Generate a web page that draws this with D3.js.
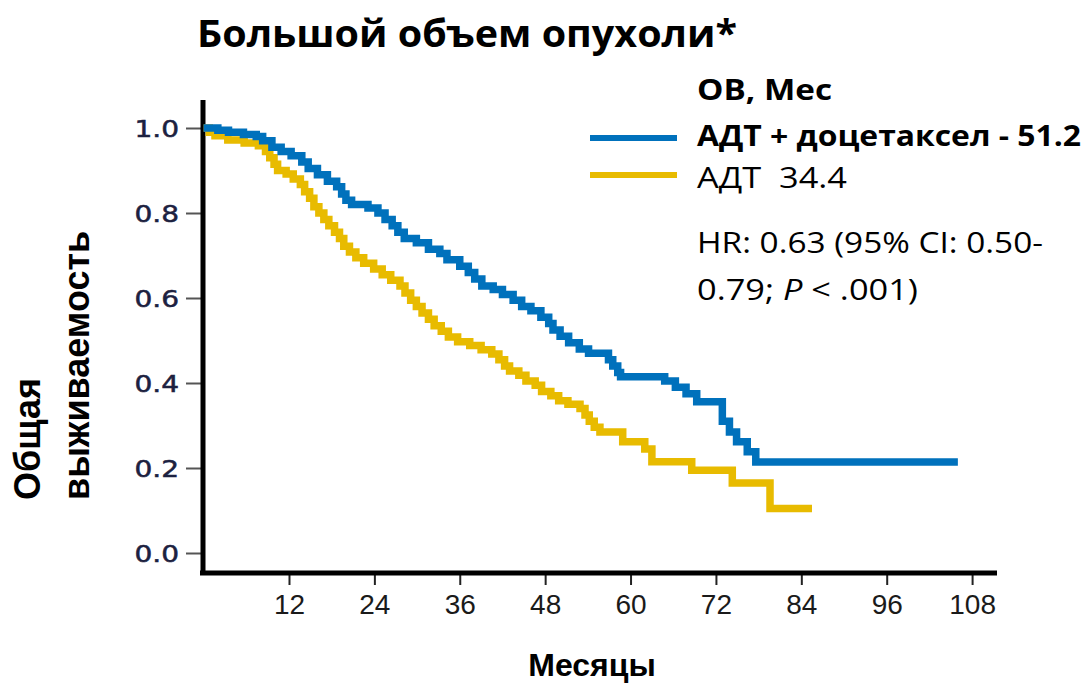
<!DOCTYPE html>
<html>
<head>
<meta charset="utf-8">
<script src="https://cdn.jsdelivr.net/npm/d3@7"></script>
<style>
  html, body { margin: 0; padding: 0; background: #fff; }
  svg { display: block; }
  text { white-space: pre; }
</style>
</head>
<body>
<svg id="chart" width="1086" height="685"></svg>
<script>
// Kaplan–Meier overall survival, high-volume disease
const chartTitle = "Большой объем опухоли*";
const yAxisLines = ["Общая", "выживаемость"];
const xAxisTitle = "Месяцы";

const xTicks = [12, 24, 36, 48, 60, 72, 84, 96, 108];
const yTicks = [0, 0.2, 0.4, 0.6, 0.8, 1.0];

const seriesNames = ["АДТ + доцетаксел - 51.2", "АДТ  34.4"];
const legendHeader = "ОВ, Мес";

// ADT + docetaxel arm: months and survival probability
const docMonths = [0, 2.0, 3.5, 5.6, 7.4, 8.3, 9.6, 10.9, 12.3, 13.8, 14.7, 16.0, 17.4, 18.7, 19.4, 20.0, 20.8,
  23.1, 24.5, 25.5, 26.5, 27.3, 28.2, 29.9, 31.6, 33.2, 34.2, 36.0, 37.2, 38.1, 39.1, 40.7, 42.0, 43.5,
  44.7, 46.0, 47.4, 48.5, 49.1, 50.1, 51.3, 52.8, 54.1, 56.9, 57.5, 58.2, 58.6, 64.8, 66.3, 67.8, 69.3,
  72.9, 73.9, 74.9, 76.4, 77.6, 106.0];
const docSurv = [1.0, 0.995, 0.99, 0.985, 0.98, 0.97, 0.955, 0.945, 0.935, 0.92, 0.905, 0.89, 0.875, 0.862, 0.845, 0.83, 0.82,
  0.812, 0.80, 0.785, 0.77, 0.755, 0.74, 0.73, 0.715, 0.705, 0.69, 0.675, 0.66, 0.645, 0.628, 0.62, 0.608, 0.595,
  0.58, 0.57, 0.555, 0.54, 0.525, 0.51, 0.495, 0.48, 0.47, 0.455, 0.44, 0.425, 0.415, 0.405, 0.39, 0.375, 0.356,
  0.31, 0.285, 0.262, 0.238, 0.214, 0.214];

// ADT alone arm
const adtMonths = [0, 0.8, 1.6, 3.4, 5.7, 7.7, 8.7, 9.3, 9.9, 10.4, 11.6, 12.6, 13.6, 14.2, 14.9, 15.5, 16.2, 16.9,
  17.6, 18.4, 19.1, 19.7, 20.5, 21.4, 22.5, 23.9, 25.1, 26.3, 27.6, 28.3, 29.1, 29.9, 30.7, 31.6, 32.4, 33.4,
  34.4, 35.7, 37.4, 39.0, 40.5, 41.5, 42.3, 43.0, 44.3, 45.3, 46.6, 47.5, 48.8, 49.9, 51.2, 52.9, 53.6, 54.2,
  54.9, 55.7, 58.9, 62.0, 63.0, 68.6, 74.3, 79.6, 85.5];
const adtSurv = [1.0, 0.99, 0.982, 0.972, 0.965, 0.958, 0.945, 0.93, 0.915, 0.9, 0.892, 0.88, 0.867, 0.85, 0.835, 0.815, 0.80, 0.785,
  0.77, 0.755, 0.74, 0.722, 0.708, 0.695, 0.682, 0.668, 0.655, 0.642, 0.628, 0.612, 0.595, 0.58, 0.565, 0.55, 0.535, 0.522,
  0.508, 0.497, 0.488, 0.478, 0.468, 0.455, 0.44, 0.428, 0.418, 0.405, 0.395, 0.38, 0.37, 0.358, 0.35, 0.34, 0.325, 0.31,
  0.296, 0.285, 0.262, 0.245, 0.215, 0.195, 0.165, 0.105, 0.105];

const colors = ["#0071BC", "#E8BB00"];

const svg = d3.select("#chart");

const x = d3.scaleLinear().domain([0, 111.5]).range([203.6, 997]);
const y = d3.scaleLinear().domain([0, 1]).range([553, 128]);

// Title
svg.append("text")
  .attr("x", 197).attr("y", 47)
  .attr("font-family", "'Open Sans', sans-serif")
  .attr("font-weight", 700)
  .attr("font-size", 38)
  .attr("textLength", 540).attr("lengthAdjust", "spacingAndGlyphs")
  .attr("fill", "#000")
  .text(chartTitle);

// Y axis ticks and labels
const yAxis = d3.axisLeft(y).tickValues(yTicks).tickSize(15).tickPadding(0).tickFormat(d3.format(".1f"));
const gy = svg.append("g").attr("transform", "translate(201,0)").call(yAxis);
gy.select(".domain").remove();
gy.selectAll(".tick line").attr("stroke", "#555").attr("stroke-width", 2);
gy.selectAll(".tick text")
  .attr("x", 0)
  .attr("dy", null)
  .attr("dominant-baseline", "central")
  .attr("text-anchor", "end")
  .attr("font-family", "'DejaVu Sans', sans-serif")
  .attr("font-size", 23)
  .attr("fill", "#1c2140")
  .attr("stroke", "#1c2140")
  .attr("stroke-width", 0.5)
  .attr("transform", "translate(-22,0) scale(1.22,1)");

// X axis ticks and labels
const xAxis = d3.axisBottom(x).tickValues(xTicks).tickSize(12).tickPadding(9).tickFormat(d3.format("d"));
const gx = svg.append("g").attr("transform", "translate(0,573)").call(xAxis);
gx.select(".domain").remove();
gx.selectAll(".tick line").attr("stroke", "#222").attr("stroke-width", 2);
gx.selectAll(".tick text")
  .attr("font-family", "'Liberation Sans', Arial, sans-serif")
  .attr("font-size", 28)
  .attr("fill", "#1a1a1a");

// Axis lines
svg.append("line")
  .attr("x1", 203).attr("x2", 203)
  .attr("y1", y(1.066)).attr("y2", 575)
  .attr("stroke", "#000").attr("stroke-width", 5);
svg.append("line")
  .attr("x1", 200).attr("x2", x(111.5))
  .attr("y1", 573).attr("y2", 573)
  .attr("stroke", "#000").attr("stroke-width", 5);

// Survival curves
const line = d3.line().x(d => x(d[0])).y(d => y(d[1])).curve(d3.curveStepAfter);
const curves = [
  d3.zip(adtMonths, adtSurv),
  d3.zip(docMonths, docSurv)
];
svg.append("path").datum(curves[0])
  .attr("d", line).attr("fill", "none")
  .attr("stroke", colors[1]).attr("stroke-width", 7.5);
svg.append("path").datum(curves[1])
  .attr("d", line).attr("fill", "none")
  .attr("stroke", colors[0]).attr("stroke-width", 7.5);

// Y axis title (two lines, rotated)
const yTitle = svg.append("g")
  .attr("font-family", "'Liberation Sans', Arial, sans-serif")
  .attr("font-weight", 700)
  .attr("font-size", 36)
  .attr("fill", "#000");
yTitle.append("text")
  .attr("transform", "translate(40,500) rotate(-90)")
  .text(yAxisLines[0]);
yTitle.append("text")
  .attr("transform", "translate(89,500) rotate(-90)")
  .text(yAxisLines[1]);

// X axis title
svg.append("text")
  .attr("x", 592).attr("y", 676)
  .attr("text-anchor", "middle")
  .attr("font-family", "'Liberation Sans', Arial, sans-serif")
  .attr("font-weight", 700)
  .attr("font-size", 32)
  .attr("fill", "#000")
  .text(xAxisTitle);

// Legend
const lg = svg.append("g").attr("font-family", "'Open Sans', sans-serif").attr("fill", "#000");
lg.append("text").attr("x", 697).attr("y", 100)
  .attr("font-size", 29).attr("font-weight", 700)
  .attr("textLength", 135).attr("lengthAdjust", "spacingAndGlyphs")
  .text(legendHeader);
lg.append("text").attr("x", 697).attr("y", 146)
  .attr("font-size", 29).attr("font-weight", 700)
  .attr("textLength", 384).attr("lengthAdjust", "spacingAndGlyphs")
  .text(seriesNames[0]);
lg.append("text").attr("x", 697).attr("y", 188)
  .attr("font-size", 29).attr("font-weight", 400)
  .attr("textLength", 150).attr("lengthAdjust", "spacingAndGlyphs")
  .text(seriesNames[1]);
lg.append("line").attr("x1", 590).attr("x2", 677).attr("y1", 138).attr("y2", 138)
  .attr("stroke", colors[0]).attr("stroke-width", 6);
lg.append("line").attr("x1", 590).attr("x2", 677).attr("y1", 175).attr("y2", 175)
  .attr("stroke", colors[1]).attr("stroke-width", 6);

lg.append("text").attr("x", 697).attr("y", 253)
  .attr("font-size", 29).attr("font-weight", 400)
  .attr("textLength", 346).attr("lengthAdjust", "spacingAndGlyphs")
  .text("HR: 0.63 (95% CI: 0.50-");
const t2 = lg.append("text").attr("x", 697).attr("y", 300)
  .attr("font-size", 29).attr("font-weight", 400)
  .attr("textLength", 221).attr("lengthAdjust", "spacingAndGlyphs");
t2.append("tspan").text("0.79; ");
t2.append("tspan").attr("font-style", "italic").text("P");
t2.append("tspan").text(" < .001)");
</script>
</body>
</html>
